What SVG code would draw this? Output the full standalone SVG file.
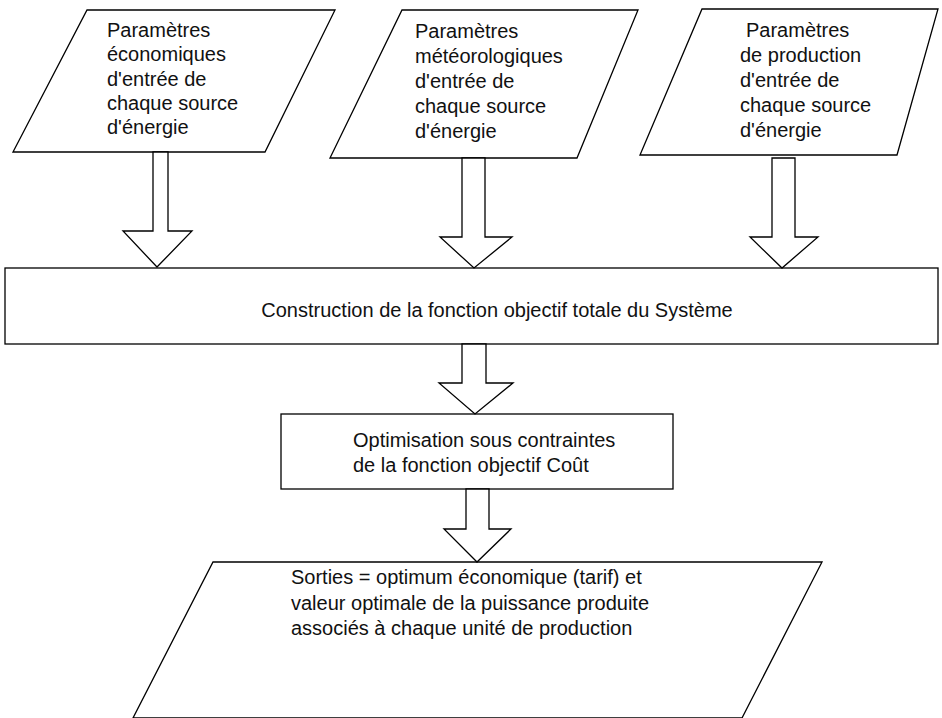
<svg xmlns="http://www.w3.org/2000/svg" width="942" height="718" viewBox="0 0 942 718">
<style>
.s{fill:#fff;stroke:#000;stroke-width:1.3}
.t{font-family:"Liberation Sans",Arial,sans-serif;font-size:20px;fill:#111}
</style>
<rect width="942" height="718" fill="#fff"/>
<g id="in1">
<polygon class="s" points="87,10 335,10 265,152 13,152"/>
<text class="t"><tspan x="107" y="37">Paramètres</tspan><tspan x="107" y="61">économiques</tspan><tspan x="107" y="86">d'entrée de</tspan><tspan x="107" y="110">chaque source</tspan><tspan x="107" y="134">d'énergie</tspan></text>
</g>
<g id="in2">
<polygon class="s" points="402,10 638,10 577,158 330,158"/>
<text class="t"><tspan x="415" y="38">Paramètres</tspan><tspan x="415" y="63">météorologiques</tspan><tspan x="415" y="88">d'entrée de</tspan><tspan x="415" y="113">chaque source</tspan><tspan x="415" y="138">d'énergie</tspan></text>
</g>
<g id="in3">
<polygon class="s" points="702,9 938,9 897,155 640,155"/>
<text class="t"><tspan x="746" y="37">Paramètres</tspan><tspan x="740" y="62">de production</tspan><tspan x="740" y="87">d'entrée de</tspan><tspan x="740" y="112">chaque source</tspan><tspan x="740" y="137">d'énergie</tspan></text>
</g>
<g id="build">
<rect class="s" x="5" y="268" width="933" height="76"/>
<text class="t" x="497" y="317" text-anchor="middle">Construction de la fonction objectif totale du Système</text>
</g>
<g id="opt">
<rect class="s" x="281" y="414" width="392" height="75"/>
<text class="t"><tspan x="353" y="447">Optimisation sous contraintes</tspan><tspan x="353" y="472">de la fonction objectif Coût</tspan></text>
</g>
<g id="out">
<polygon class="s" points="213,562 822,562 742,718 133,718"/>
<text class="t"><tspan x="291" y="584">Sorties = optimum économique (tarif) et</tspan><tspan x="291" y="610">valeur optimale de la puissance produite</tspan><tspan x="291" y="635">associés à chaque unité de production</tspan></text>
</g>
<g id="connectors">
<polygon class="s" points="153,152 168,152 168,231 192,231 157,267 123,231 153,231"/>
<polygon class="s" points="462,158 485,158 485,237 512,237 474,268 440,237 462,237"/>
<polygon class="s" points="772,158 795,158 795,237 818,237 782,268 750,237 772,237"/>
<polygon class="s" points="462,344 486,344 486,383 513,383 475,414 439,383 462,383"/>
<polygon class="s" points="466,489 489,489 489,529 511,529 477,562 444,529 466,529"/>
</g>
</svg>
